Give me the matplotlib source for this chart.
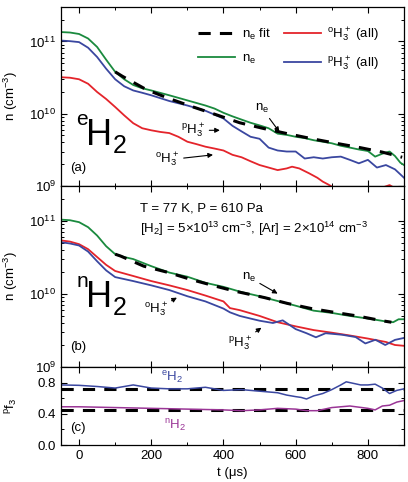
import matplotlib
matplotlib.use("Agg")
import matplotlib.pyplot as plt
from matplotlib.ticker import MultipleLocator, NullFormatter

plt.rcParams["font.family"] = ["Liberation Sans", "DejaVu Sans"]
plt.rcParams["mathtext.default"] = "regular"
plt.rcParams["font.size"] = 9.5

GREEN = "#1a8a3e"
RED = "#e4242b"
BLUE = "#3a47a0"
PURPLE = "#9a3596"

# ---- panel (a): eH2 ----
t_a = [-50, -25, 0, 25, 50, 75, 100, 125, 150, 175, 200, 250, 300, 350, 375, 400, 425,
       450, 475, 500, 525, 550, 575, 600, 625, 650, 675, 700, 725, 750, 775, 800, 820,
       840, 860, 875, 890, 900]
ne_a = [1.35e11, 1.33e11, 1.27e11, 1.1e11, 8.4e10, 5.6e10, 3.8e10, 3.0e10, 2.5e10, 2.25e10,
        2.1e10, 1.8e10, 1.53e10, 1.3e10, 1.18e10, 1.03e10, 9.2e9, 8.3e9, 7.5e9, 6.9e9,
        6.3e9, 5.3e9, 5.1e9, 4.8e9, 4.6e9, 4.3e9, 4.1e9, 3.9e9, 3.6e9, 3.4e9, 3.2e9,
        3.05e9, 2.55e9, 2.8e9, 3.0e9, 2.6e9, 2.1e9, 1.95e9]

t_pa = [-50, -25, 0, 25, 50, 75, 100, 125, 150, 175, 200, 250, 300, 350, 400, 425, 450,
        475, 500, 525, 550, 575, 600, 625, 650, 675, 700, 725, 750, 775, 800, 825, 850,
        875, 900]
para_a = [1.03e11, 1.01e11, 9.8e10, 8.2e10, 6.1e10, 4.2e10, 3.0e10, 2.4e10, 2.1e10,
          1.95e10, 1.8e10, 1.5e10, 1.3e10, 1.1e10, 8.6e9, 6.8e9, 5.7e9, 4.8e9, 4.5e9,
          3.4e9, 3.1e9, 3.0e9, 3.0e9, 2.4e9, 2.5e9, 2.4e9, 2.5e9, 2.55e9, 2.3e9, 2.06e9,
          2.3e9, 1.8e9, 1.95e9, 1.7e9, 1.3e9]

t_oa = [-50, -25, 0, 25, 50, 75, 100, 125, 150, 175, 200, 225, 250, 275, 300, 325, 350,
        375, 400, 425, 450, 475, 500, 525, 550, 575, 590, 610, 637, 660, 675, 690, 705,
        720, 760, 800, 840, 860, 880, 900]
ortho_a = [3.2e10, 3.15e10, 3.0e10, 2.6e10, 2.0e10, 1.6e10, 1.24e10, 9.5e9, 7.4e9, 6.3e9,
           5.9e9, 5.6e9, 5.4e9, 4.8e9, 4.1e9, 3.8e9, 3.5e9, 3.3e9, 3.1e9, 2.7e9, 2.5e9,
           2.2e9, 1.95e9, 1.8e9, 1.66e9, 1.75e9, 1.85e9, 1.75e9, 1.5e9, 1.3e9, 1.15e9,
           1.05e9, 0.95e9, 0.9e9, 0.85e9, 0.9e9, 0.95e9, 1.03e9, 0.9e9, 0.85e9]

t_fa = [100, 120, 187, 250, 316, 385, 445, 511, 577, 646, 712, 778, 839, 895]
fit_a = [3.8e10, 3.3e10, 2.15e10, 1.62e10, 1.24e10, 9.5e9, 7.5e9, 6.25e9, 5.3e9, 4.5e9,
         3.9e9, 3.4e9, 2.95e9, 2.5e9]

# ---- panel (b): nH2 ----
t_b = [-50, -25, 0, 25, 50, 75, 100, 125, 150, 200, 250, 300, 350, 400, 450, 500, 550,
       600, 650, 700, 750, 800, 825, 850, 870, 885, 900]
ne_b = [1.04e11, 1.02e11, 9.6e10, 8.2e10, 6.3e10, 4.5e10, 3.5e10, 3.2e10, 3.0e10, 2.4e10,
        1.96e10, 1.72e10, 1.42e10, 1.25e10, 1.06e10, 9.3e9, 8.0e9, 6.9e9, 5.9e9, 5.5e9,
        5.0e9, 4.6e9, 4.4e9, 4.2e9, 4.1e9, 4.5e9, 4.5e9]

t_ob = [-50, -25, 0, 25, 50, 75, 100, 150, 200, 250, 300, 350, 400, 418, 445, 500, 550,
        600, 650, 700, 750, 800, 850, 875, 900]
ortho_b = [5.4e10, 5.2e10, 4.8e10, 4.1e10, 3.2e10, 2.5e10, 2.06e10, 1.76e10, 1.5e10,
           1.31e10, 1.13e10, 9.5e9, 7.9e9, 6.4e9, 6.0e9, 5.0e9, 4.1e9, 3.6e9, 3.2e9,
           2.95e9, 2.7e9, 2.45e9, 2.2e9, 2.0e9, 1.95e9]

t_pb = [-50, -25, 0, 25, 50, 75, 100, 150, 200, 250, 300, 350, 400, 418, 445, 475, 500,
        537, 564, 600, 630, 656, 683, 729, 766, 793, 821, 848, 875, 900]
para_b = [5.1e10, 4.9e10, 4.6e10, 3.8e10, 2.8e10, 2.1e10, 1.7e10, 1.5e10, 1.31e10,
          1.13e10, 9.3e9, 7.9e9, 6.3e9, 5.6e9, 5.0e9, 4.6e9, 4.3e9, 4.0e9, 4.35e9, 3.3e9,
          2.9e9, 2.55e9, 2.9e9, 2.76e9, 2.57e9, 2.1e9, 2.36e9, 2.0e9, 2.35e9, 2.5e9]

t_fb = [100, 115, 179, 248, 313, 380, 432, 514, 578, 644, 707, 770, 839, 865]
fit_b = [3.5e10, 3.3e10, 2.4e10, 1.96e10, 1.56e10, 1.27e10, 1.09e10, 8.9e9, 7.4e9, 6.3e9,
         5.6e9, 5.0e9, 4.3e9, 4.1e9]

# ---- panel (c): para fraction ----
t_ce = [-50, 0, 50, 100, 125, 150, 175, 200, 250, 300, 350, 400, 450, 500, 525, 550, 575,
        600, 615, 630, 650, 675, 700, 725, 740, 760, 780, 800, 820, 840, 860, 880, 900]
pf_e = [0.77, 0.765, 0.75, 0.73, 0.75, 0.77, 0.75, 0.73, 0.72, 0.72, 0.74, 0.70, 0.71,
        0.69, 0.68, 0.67, 0.64, 0.62, 0.61, 0.59, 0.63, 0.66, 0.71, 0.77, 0.81, 0.79,
        0.77, 0.77, 0.78, 0.73, 0.66, 0.70, 0.72]
t_cn = [-50, 0, 100, 200, 300, 400, 450, 500, 550, 600, 630, 660, 700, 750, 800, 820,
        840, 860, 880, 900]
pf_n = [0.49, 0.49, 0.48, 0.47, 0.46, 0.45, 0.44, 0.45, 0.47, 0.46, 0.44, 0.44, 0.48,
        0.50, 0.47, 0.45, 0.50, 0.51, 0.55, 0.57]
pf_e_mean = 0.72
pf_n_mean = 0.45

W, H = 408, 482
fig = plt.figure(figsize=(W / 100, H / 100), dpi=100)
left, right = 61 / W, 404 / W


def panel(top_px, bot_px):
    return fig.add_axes([left, 1 - bot_px / H, right - left, (bot_px - top_px) / H])


axa = panel(7, 186)
axb = panel(186, 367)
axc = panel(367, 445)

dash = dict(color="k", lw=2.2, dashes=(4, 3))
arrow = dict(arrowstyle="-|>", color="k", lw=0.8, mutation_scale=7, shrinkA=1, shrinkB=0)


def big_label(ax, sup, base_y):
    # H with a leading superscript and a subscript 2, as in the reference
    ax.text(0.074, base_y, "H", transform=ax.transAxes, fontsize=26, ha="left",
            va="baseline")
    ax.text(0.045, base_y + 0.11, sup, transform=ax.transAxes, fontsize=15, ha="left",
            va="baseline")
    ax.text(0.152, base_y - 0.045, "2", transform=ax.transAxes, fontsize=18, ha="left",
            va="baseline")


# (a)
axa.plot(t_fa, fit_a, label="n$_e$ fit", zorder=4, **dash)
axa.plot(t_a, ne_a, color=GREEN, lw=1.3, label="n$_e$")
axa.plot(t_oa, ortho_a, color=RED, lw=1.3, label="$^{o}$H$_3^+$ (all)")
axa.plot(t_pa, para_a, color=BLUE, lw=1.3, label="$^{p}$H$_3^+$ (all)")
axa.legend(loc="upper left", bbox_to_anchor=(0.365, 0.965), ncol=2, frameon=False,
           handlelength=2.8, columnspacing=1.0, labelspacing=0.8, handletextpad=0.5,
           fontsize=9.5)
axa.annotate("n$_e$", xy=(555, 5.6e9), xytext=(506, 1.2e10), ha="center", va="center",
             arrowprops=arrow)
axa.annotate("$^{p}$H$_3^+$", xy=(390, 5.9e9), xytext=(316, 5.9e9), ha="center",
             va="center", arrowprops=arrow)
axa.annotate("$^{o}$H$_3^+$", xy=(371, 2.7e9), xytext=(245, 2.3e9), ha="center",
             va="center", arrowprops=arrow)
big_label(axa, "e", 0.229)
axa.text(0.026, 0.103, "(a)", transform=axa.transAxes, ha="left", va="center")

# (b)
axb.plot(t_fb, fit_b, zorder=4, **dash)
axb.plot(t_b, ne_b, color=GREEN, lw=1.3)
axb.plot(t_ob, ortho_b, color=RED, lw=1.3)
axb.plot(t_pb, para_b, color=BLUE, lw=1.3)
axb.text(0.23, 0.878, "T = 77 K, P = 610 Pa", transform=axb.transAxes, ha="left",
         va="center")
axb.text(0.23, 0.762, "[H$_2$] = 5×10$^{13}$ cm$^{-3}$, [Ar] = 2×10$^{14}$ cm$^{-3}$",
         transform=axb.transAxes, ha="left", va="center")
axb.annotate("n$_e$", xy=(550, 1.01e10), xytext=(470, 1.7e10), ha="center", va="center",
             arrowprops=arrow)
axb.annotate("$^{o}$H$_3^+$", xy=(271, 8.9e9), xytext=(212, 6.0e9), ha="center",
             va="center", arrowprops=arrow)
axb.annotate("$^{p}$H$_3^+$", xy=(505, 3.45e9), xytext=(445, 2.1e9), ha="center",
             va="center", arrowprops=arrow)
big_label(axb, "n", 0.331)
axb.text(0.026, 0.113, "(b)", transform=axb.transAxes, ha="left", va="center")

# (c)
axc.plot([-50, 900], [pf_e_mean, pf_e_mean], **dash)
axc.plot([-50, 900], [pf_n_mean, pf_n_mean], **dash)
axc.plot(t_ce, pf_e, color=BLUE, lw=1.1)
axc.plot(t_cn, pf_n, color=PURPLE, lw=1.1)
axc.text(258, 0.865, "$^{e}$H$_2$", color=BLUE, ha="center", va="center")
axc.text(267, 0.245, "$^{n}$H$_2$", color=PURPLE, ha="center", va="center")
axc.text(0.026, 0.22, "(c)", transform=axc.transAxes, ha="left", va="center")

for ax in (axa, axb):
    ax.set_yscale("log")
    ax.set_ylim(1e9, 3e11)
    ax.set_ylabel("n (cm$^{-3}$)")
    ax.xaxis.set_major_formatter(NullFormatter())

axc.set_ylim(0, 1.0)
axc.yaxis.set_major_locator(MultipleLocator(0.4))
axc.yaxis.set_minor_locator(MultipleLocator(0.2))
axc.yaxis.set_major_formatter(plt.FormatStrFormatter("%.1f"))
axc.set_ylabel("$^{p}$f$_3$")
axc.set_xlabel("t (μs)")

for ax in (axa, axb, axc):
    ax.set_xlim(-50, 900)
    ax.xaxis.set_major_locator(MultipleLocator(200))
    ax.xaxis.set_minor_locator(MultipleLocator(100))
    ax.tick_params(which="both", direction="in", top=True, right=True, labelsize=9.5)
    ax.tick_params(which="major", length=4, width=0.8)
    ax.tick_params(which="minor", length=2.5, width=0.7)
    ax.yaxis.set_label_coords(-0.12, 0.5)
    for s in ax.spines.values():
        s.set_linewidth(0.9)

fig.savefig("out.png", dpi=100)
